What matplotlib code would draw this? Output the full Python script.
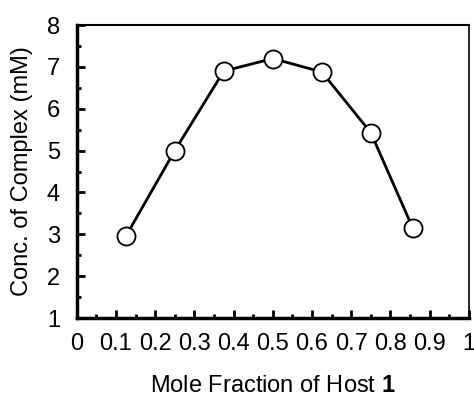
import matplotlib
matplotlib.use("Agg")
import matplotlib.pyplot as plt
from matplotlib.ticker import MultipleLocator

plt.rcParams['font.family'] = ['Liberation Sans', 'DejaVu Sans']
plt.rcParams['mathtext.fontset'] = 'custom'
plt.rcParams['mathtext.rm'] = 'Liberation Sans'
plt.rcParams['mathtext.bf'] = 'Liberation Sans:bold'

x = [0.125, 0.25, 0.375, 0.5, 0.625, 0.75, 0.857]
conc = [2.95, 5.0, 6.9, 7.2, 6.88, 5.43, 3.15]
xticks = [0, 0.1, 0.2, 0.3, 0.4, 0.5, 0.6, 0.7, 0.8, 0.9, 1]
xticklabels = ['0', '0.1', '0.2', '0.3', '0.4', '0.5', '0.6', '0.7', '0.8', '0.9', '1']
yticks = [1, 2, 3, 4, 5, 6, 7, 8]

fig = plt.figure(figsize=(4.74, 3.98), dpi=100)
ax = fig.add_axes([0.162, 0.201, 0.827, 0.736])
ax.plot(x, conc, color='black', lw=2, marker='o', ms=13,
        markerfacecolor='white', markeredgecolor='black', markeredgewidth=1.3, zorder=3)
ax.set_xlim(0, 1)
ax.set_ylim(1, 8)
ax.set_xticks(xticks)
ax.set_xticklabels(xticklabels)
ax.set_yticks(yticks)
ax.xaxis.set_minor_locator(MultipleLocator(0.05))
ax.yaxis.set_minor_locator(MultipleLocator(0.5))
ax.tick_params(which='both', direction='in', top=False, right=False, labelsize=17)
ax.tick_params(axis='x', pad=11)
ax.tick_params(axis='y', pad=12)
ax.tick_params(which='major', length=6, width=2)
ax.tick_params(which='minor', length=3, width=2)
ax.spines['left'].set_linewidth(2.5)
ax.spines['bottom'].set_linewidth(2.5)
ax.spines['top'].set_linewidth(1.5)
ax.spines['right'].set_linewidth(1.2)
ax.set_ylabel('Conc. of Complex (mM)', fontsize=17, labelpad=10)
ax.set_xlabel('Mole Fraction of Host $\\mathbf{1}$', fontsize=17, labelpad=14)
fig.savefig('out.png', dpi=100)
